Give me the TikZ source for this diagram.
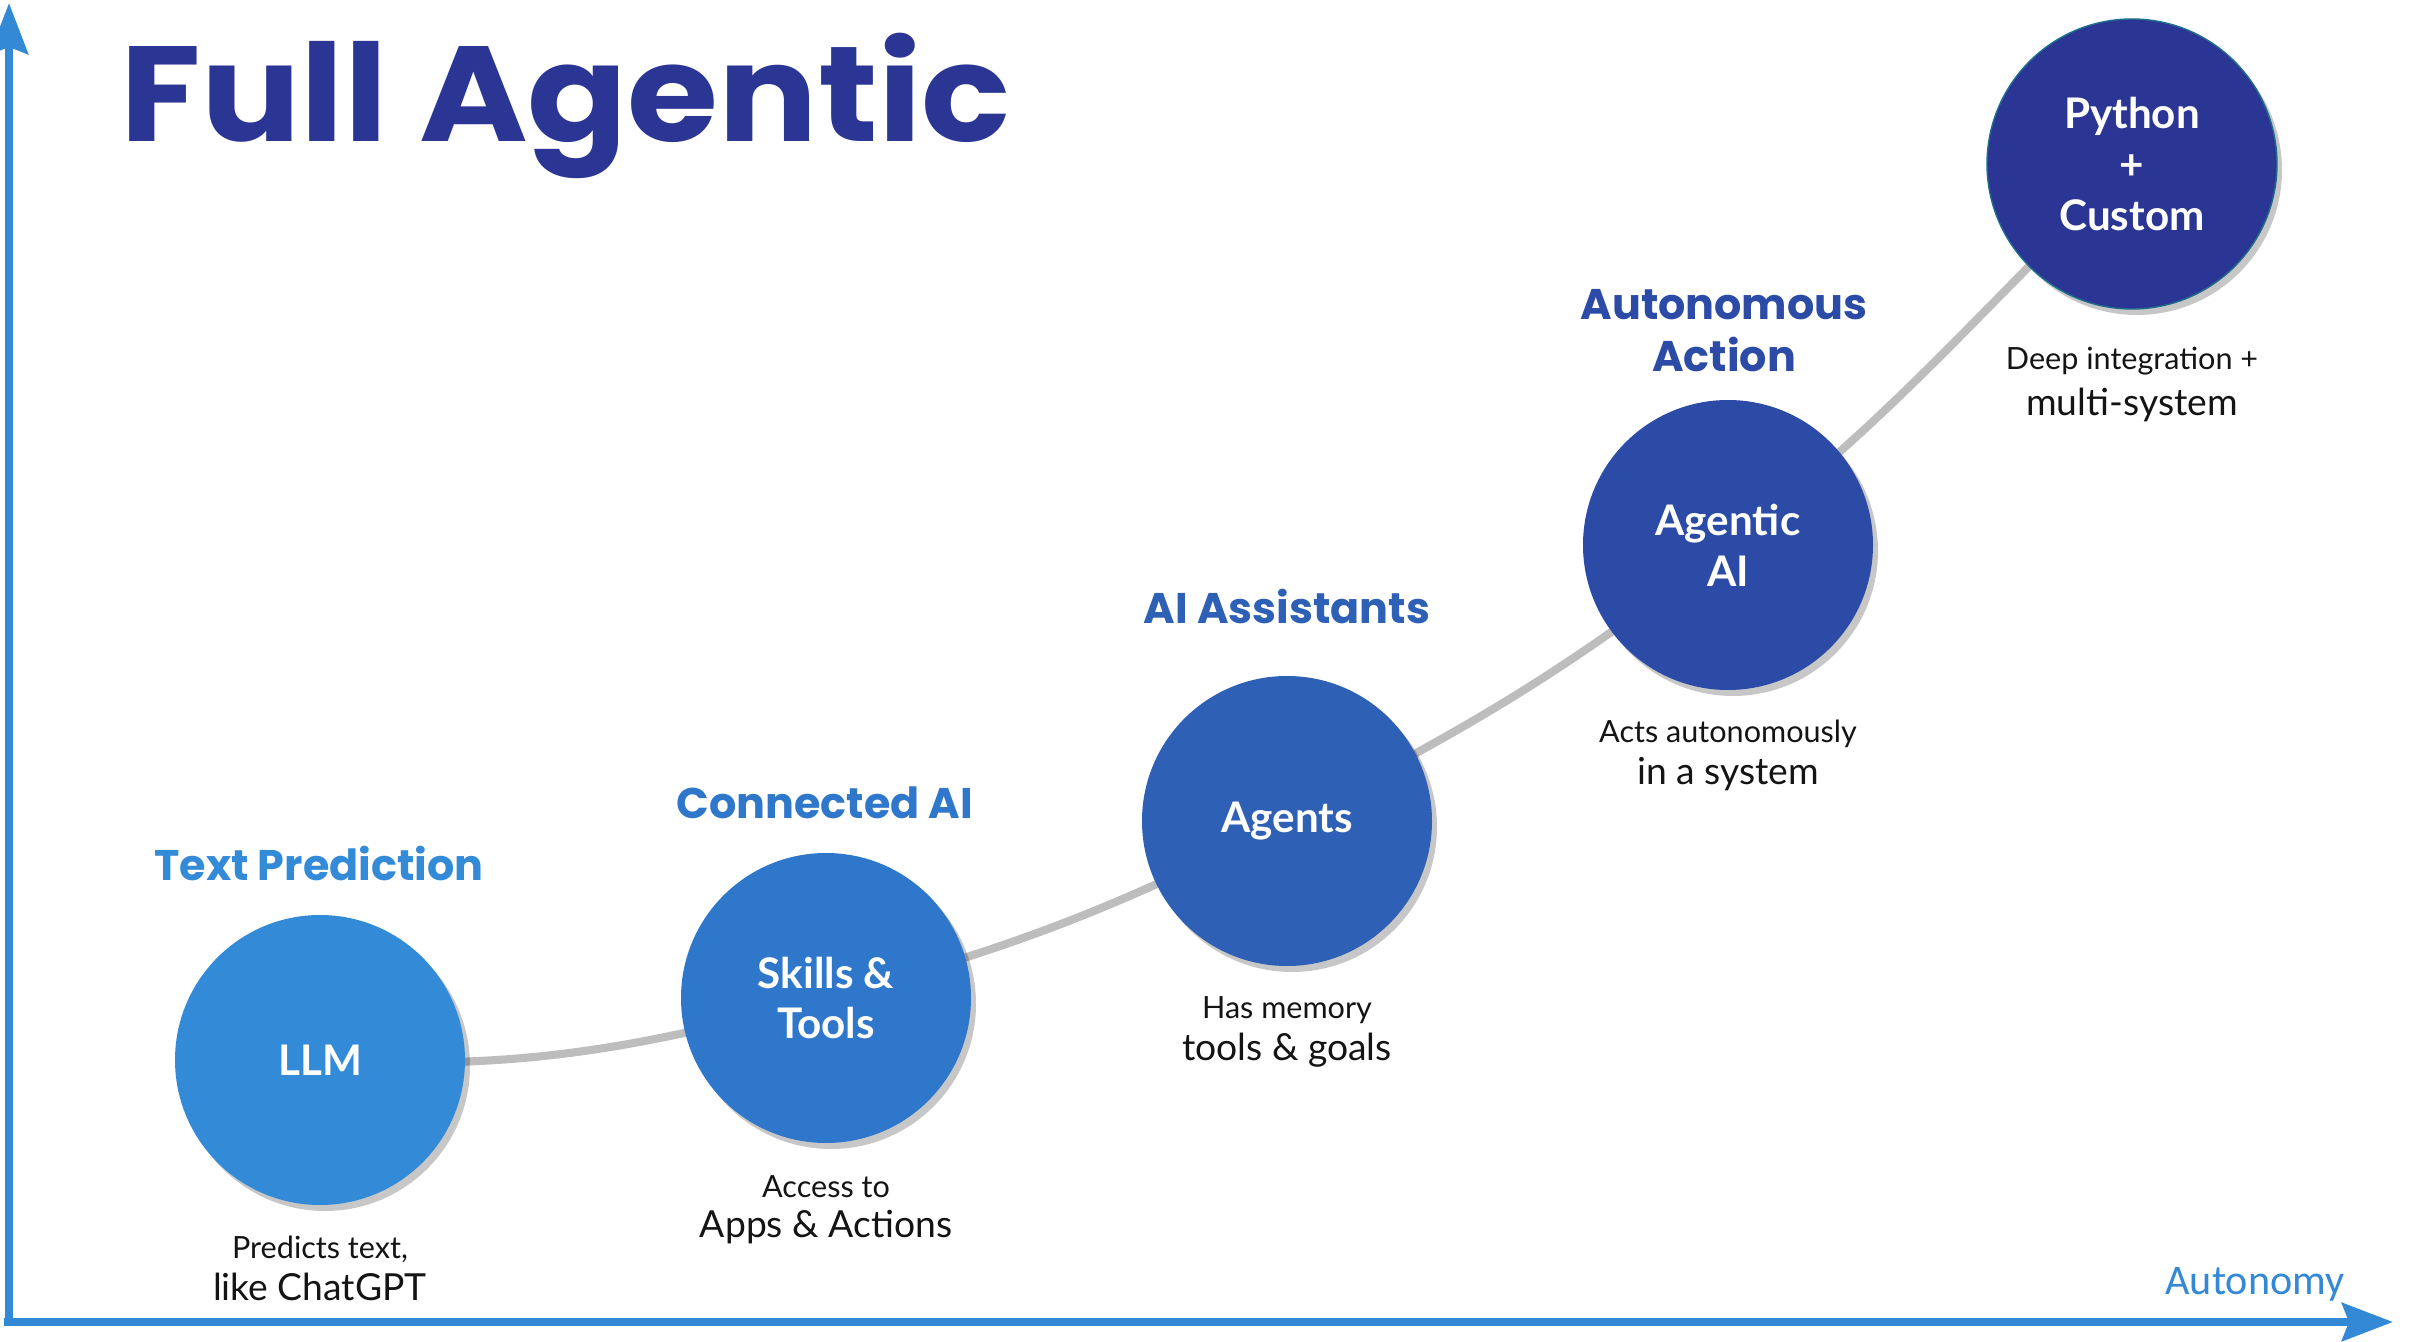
\documentclass[tikz,border=0pt]{standalone}
\usepackage{fontspec}
\setmainfont{Lato}
\newfontfamily\headfont{Poppins}
\newfontfamily\titlefont[FakeStretch=1.09]{Poppins}
\newfontfamily\axisfont{Carlito}
\usetikzlibrary{arrows.meta,backgrounds,shadows}

\definecolor{stepA}{HTML}{338AD7}
\definecolor{stepB}{HTML}{2F77CA}
\definecolor{stepC}{HTML}{2E60B5}
\definecolor{stepD}{HTML}{2C4BA6}
\definecolor{stepE}{HTML}{2A3594}
\definecolor{axisblue}{HTML}{3389D6}
\definecolor{linkgray}{HTML}{BDBDBD}
\definecolor{ink}{HTML}{141414}
\definecolor{rimteal}{HTML}{1F6F8C}

\begin{document}
\begin{tikzpicture}[
  stage/.style={circle, minimum size=2.9cm, inner sep=0pt, text=white, align=center,
    font=\fontsize{12}{14.5}\selectfont\bfseries,
    drop shadow={shadow xshift=0.05cm, shadow yshift=-0.06cm, opacity=0.22, fill=black}},
  heading/.style={anchor=base, inner sep=0pt, font=\headfont\bfseries\fontsize{12.2}{14}\selectfont},
  smallnote/.style={anchor=base, inner sep=0pt, text=ink, font=\fontsize{8.7}{10}\selectfont},
  bignote/.style={anchor=base, inner sep=0pt, text=ink, font=\fontsize{10.6}{12}\selectfont},
  link/.style={draw=linkgray, line width=2.3pt},
  axisline/.style={draw=axisblue, line width=2.3pt, -{Stealth[length=14.5pt,width=10.8pt,inset=2pt]}}
]
  \useasboundingbox (0,0) rectangle (24.09,13.41);

  % axes
  \coordinate (origin) at (0.09,0.19);
  \coordinate (ytip) at (0.09,13.38);
  \coordinate (xtip) at (23.93,0.19);
  \draw[axisline] (origin) -- (ytip);
  \draw[axisline] ([xshift=-0.05cm]origin) -- (xtip);
  \node[anchor=base, inner sep=0pt, text=axisblue, font=\axisfont\fontsize{12}{14}\selectfont] (autonomy) at (22.55,0.47) {Autonomy};

  \node[anchor=base west, inner sep=0pt, text=stepE, font=\titlefont\bfseries\fontsize{38.5}{40}\selectfont] (title) at (1.20,11.99) {Full Agentic};

  % the five stages
  \node[stage, fill=stepA] (llm) at (3.20,2.81) {LLM};
  \node[stage, fill=stepB] (skills) at (8.26,3.43) {Skills \&\\Tools};
  \node[stage, fill=stepC] (agents) at (12.87,5.20) {Agents};
  \node[stage, fill=stepD] (agentic) at (17.28,7.96) {Agentic\\AI};
  \node[stage, fill=stepE, draw=rimteal, line width=0.4pt] (python) at (21.32,11.77) {Python\\+\\Custom};

  \begin{scope}[on background layer]
    \fill[white] (0,0) rectangle (24.09,13.41);
    \draw[link] (llm.center) to[out=-3,in=195] (skills.center);
    \draw[link] (skills.center) to[out=15,in=207] (agents.center);
    \draw[link] (agents.center) to[out=27,in=218] (agentic.center);
    \draw[link] (agentic.center) to[out=38,in=224] (python.center);
  \end{scope}

  % headings
  \node[heading, text=stepA] (textpred) at (3.19,4.61) {Text Prediction};
  \node[heading, text=stepB] (connected) at (8.25,5.23) {Connected AI};
  \node[heading, text=stepC] (assist) at (12.87,7.18) {AI Assistants};
  \node[heading, text=stepD] (autonomous) at (17.24,10.21) {Autonomous};
  \node[heading, text=stepD] (action) at (17.24,9.69) {Action};

  % notes
  \node[smallnote] (llmnote) at (3.20,0.83) {Predicts text,};
  \node[bignote] (llmnoteb) at (3.20,0.41) {like ChatGPT};
  \node[smallnote] (skillsnote) at (8.26,1.44) {Access to};
  \node[bignote] (skillsnoteb) at (8.26,1.04) {Apps \& Actions};
  \node[smallnote] (agentsnote) at (12.87,3.23) {Has memory};
  \node[bignote] (agentsnoteb) at (12.87,2.81) {tools \& goals};
  \node[smallnote] (agenticnote) at (17.28,5.99) {Acts autonomously};
  \node[bignote] (agenticnoteb) at (17.28,5.57) {in a system};
  \node[smallnote] (pythonnote) at (21.32,9.71) {Deep integration +};
  \node[bignote] (pythonnoteb) at (21.32,9.26) {multi-system};
\end{tikzpicture}
\end{document}
